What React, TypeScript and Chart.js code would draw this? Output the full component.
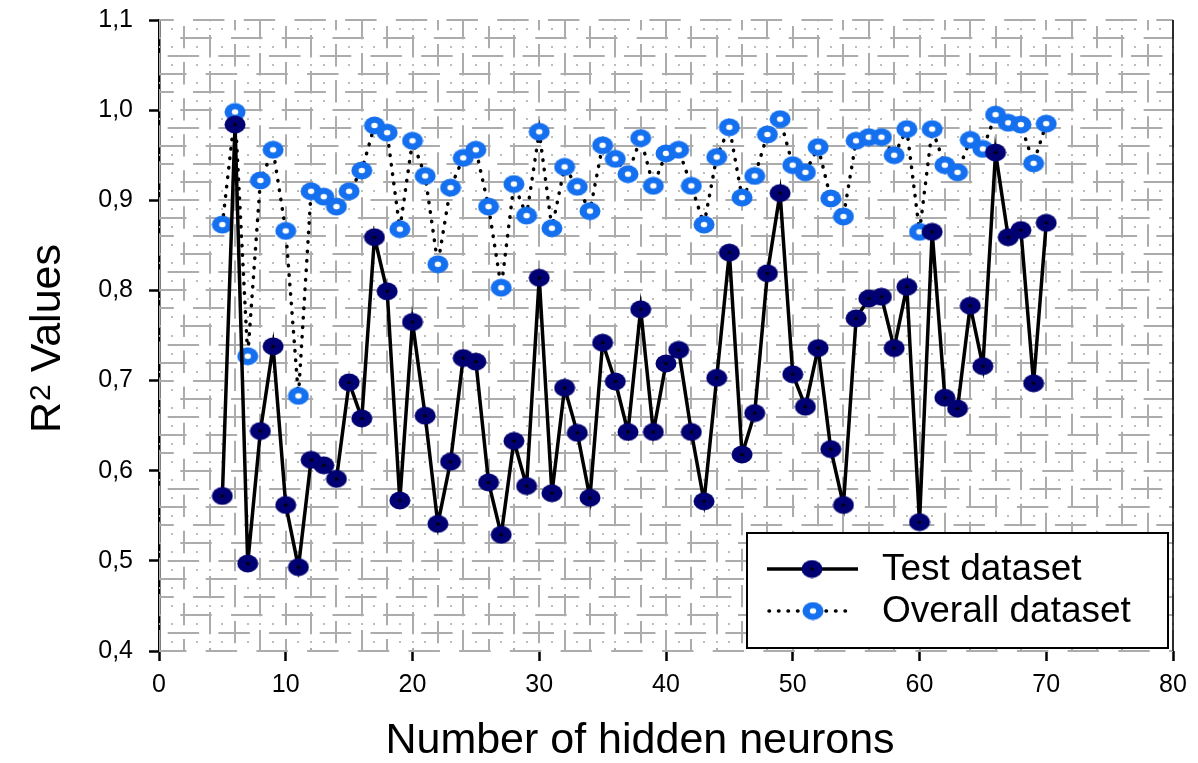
import { useEffect, useRef } from 'react';
import { Chart, registerables } from 'chart.js';

Chart.register(...registerables);

const hiddenNeurons = [
  5, 6, 7, 8, 9, 10, 11, 12, 13, 14, 15, 16, 17, 18, 19, 20, 21, 22, 23, 24, 25, 26,
  27, 28, 29, 30, 31, 32, 33, 34, 35, 36, 37, 38, 39, 40, 41, 42, 43, 44, 45, 46, 47,
  48, 49, 50, 51, 52, 53, 54, 55, 56, 57, 58, 59, 60, 61, 62, 63, 64, 65, 66, 67, 68,
  69, 70,
];

const testR2 = [
  0.572, 0.984, 0.497, 0.644, 0.738, 0.562, 0.493, 0.612, 0.606, 0.591, 0.698, 0.658,
  0.859, 0.799, 0.567, 0.765, 0.661, 0.541, 0.61, 0.725, 0.721, 0.587, 0.529, 0.633,
  0.583, 0.814, 0.575, 0.692, 0.642, 0.57, 0.742, 0.699, 0.643, 0.779, 0.643, 0.719,
  0.734, 0.643, 0.566, 0.703, 0.842, 0.618, 0.664, 0.819, 0.908, 0.707, 0.671, 0.736,
  0.624, 0.562, 0.769, 0.791, 0.793, 0.736, 0.804, 0.543, 0.865, 0.681, 0.669, 0.783,
  0.716, 0.953, 0.859, 0.867, 0.697, 0.875,
];

const overallR2 = [
  0.873, 0.998, 0.727, 0.922, 0.956, 0.866, 0.683, 0.91, 0.904, 0.893, 0.91, 0.933,
  0.983, 0.975, 0.868, 0.966, 0.927, 0.829, 0.914, 0.947, 0.956, 0.893, 0.803, 0.918,
  0.883, 0.976, 0.869, 0.937, 0.915, 0.888, 0.961, 0.946, 0.929, 0.969, 0.916, 0.952,
  0.956, 0.916, 0.873, 0.948, 0.981, 0.903, 0.927, 0.973, 0.99, 0.939, 0.931, 0.959,
  0.902, 0.882, 0.966, 0.97, 0.97, 0.95, 0.979, 0.865, 0.979, 0.939, 0.931, 0.967,
  0.957, 0.995, 0.986, 0.984, 0.941, 0.985,
];

const seriesNames = ['Test dataset', 'Overall dataset'];
const xTitle = 'Number of hidden neurons';
const yTitleMain = 'R';
const yTitleSup = '2';
const yTitleRest = ' Values';

const FONT = "'Liberation Sans', Arial, Helvetica, sans-serif";
const NAVY = '#000072';
const BLUE = '#1570ef';

function makeMarker(fill: string, center: string, cr: number): HTMLCanvasElement {
  const c = document.createElement('canvas');
  c.width = 22;
  c.height = 19;
  const g = c.getContext('2d')!;
  g.fillStyle = fill;
  g.beginPath();
  g.ellipse(11, 9.5, 10.5, 9, 0, 0, Math.PI * 2);
  g.fill();
  g.fillStyle = center;
  g.beginPath();
  g.ellipse(11, 9.5, cr * 1.15, cr, 0, 0, Math.PI * 2);
  g.fill();
  return c;
}

export default function App() {
  const ref = useRef<HTMLCanvasElement | null>(null);

  useEffect(() => {
    if (!ref.current) return;
    const navyMarker = makeMarker(NAVY, '#000000', 1.6);
    const blueMarker = makeMarker(BLUE, '#ffffff', 2.8);

    const gridPlugin = {
      id: 'fancyGrid',
      beforeDatasetsDraw(chart: any) {
        const { ctx, chartArea: a, scales } = chart;
        const x = scales.x;
        const y = scales.y;
        const ux = x.getPixelForValue(1) - x.getPixelForValue(0);
        const uy = y.getPixelForValue(0.4) - y.getPixelForValue(0.41);
        ctx.save();
        ctx.beginPath();
        ctx.rect(a.left, a.top - 1, a.right - a.left + 1, a.bottom - a.top + 2);
        ctx.clip();
        // minor dotted rows (small dots at half-cell rows)
        ctx.fillStyle = '#bdbdbd';
        for (let k = 0; k < 35; k++) {
          const py = y.getPixelForValue(0.41 + 0.02 * k);
          for (let v = 0; v <= 80; v += 1) {
            const px = x.getPixelForValue(v);
            ctx.fillRect(Math.round(px) - 1, Math.round(py) - 1, 2, 2);
          }
        }
        // major broken lines
        ctx.strokeStyle = '#acacac';
        ctx.lineWidth = 2;
        const hPeriod = ux * 4;
        ctx.setLineDash([hPeriod * 0.62, hPeriod * 0.38]);
        for (let k = 0; k <= 35; k++) {
          const py = Math.round(y.getPixelForValue(0.4 + 0.02 * k));
          ctx.lineDashOffset = ((k * 3) % 4) * ux * 1.0 + 4;
          ctx.beginPath();
          ctx.moveTo(a.left, py);
          ctx.lineTo(a.right, py);
          ctx.stroke();
        }
        const vPeriod = uy * 4;
        ctx.setLineDash([vPeriod * 0.62, vPeriod * 0.38]);
        for (let v = 0; v <= 80; v += 2) {
          const px = Math.round(x.getPixelForValue(v));
          ctx.lineDashOffset = (((v / 2) * 3) % 4) * uy + 3;
          ctx.beginPath();
          ctx.moveTo(px, a.top);
          ctx.lineTo(px, a.bottom);
          ctx.stroke();
        }
        ctx.restore();
        // right frame line
        ctx.save();
        ctx.strokeStyle = '#000';
        ctx.lineWidth = 1.5;
        ctx.beginPath();
        ctx.moveTo(a.right, a.top);
        ctx.lineTo(a.right, a.bottom);
        ctx.stroke();
        ctx.restore();
      },
    };

    const overlayPlugin = {
      id: 'overlay',
      afterDraw(chart: any) {
        const { ctx, chartArea: a } = chart;
        ctx.save();
        ctx.fillStyle = '#000';
        // x title
        ctx.font = `43px ${FONT}`;
        ctx.textAlign = 'center';
        ctx.textBaseline = 'alphabetic';
        ctx.fillText(xTitle, 640, a.bottom + 102);
        // y title (rotated)
        ctx.save();
        ctx.translate(60, 433);
        ctx.rotate(-Math.PI / 2);
        ctx.textAlign = 'left';
        ctx.font = `43px ${FONT}`;
        ctx.fillText(yTitleMain, 0, 0);
        const wR = ctx.measureText(yTitleMain).width;
        ctx.font = `30px ${FONT}`;
        ctx.fillText(yTitleSup, wR + 1, -10);
        const w2 = ctx.measureText(yTitleSup).width;
        ctx.font = `43px ${FONT}`;
        ctx.fillText(yTitleRest, wR + w2 + 1, 0);
        ctx.restore();

        // legend
        const right = a.right - 5;
        const bottom = a.bottom - 3;
        const left = right - 421;
        const top = bottom - 115;
        ctx.fillStyle = '#fff';
        ctx.fillRect(left, top, right - left, bottom - top);
        ctx.strokeStyle = '#000';
        ctx.lineWidth = 2;
        ctx.setLineDash([]);
        ctx.strokeRect(left, top, right - left, bottom - top);

        const y1 = bottom - 79;
        const y2 = bottom - 37;
        ctx.lineWidth = 3.5;
        ctx.beginPath();
        ctx.moveTo(left + 20, y1);
        ctx.lineTo(left + 111, y1);
        ctx.stroke();
        ctx.drawImage(navyMarker, left + 65 - 11, y1 - 9.5);

        ctx.lineCap = 'round';
        ctx.setLineDash([0.5, 9]);
        ctx.beginPath();
        ctx.moveTo(left + 22, y2);
        ctx.lineTo(left + 100, y2);
        ctx.stroke();
        ctx.setLineDash([]);
        ctx.drawImage(blueMarker, left + 66 - 11, y2 - 9.5);

        ctx.fillStyle = '#000';
        ctx.font = `37px ${FONT}`;
        ctx.textAlign = 'left';
        ctx.fillText(seriesNames[0], left + 135, bottom - 68);
        ctx.fillText(seriesNames[1], left + 135, bottom - 26);
        ctx.restore();
      },
    };

    const chart = new Chart(ref.current, {
      type: 'line',
      data: {
        datasets: [
          {
            label: seriesNames[0],
            data: hiddenNeurons.map((n, i) => ({ x: n, y: testR2[i] })),
            borderColor: '#000',
            borderWidth: 3.5,
            pointStyle: navyMarker as any,
            pointRadius: 10,
            tension: 0,
            fill: false,
          },
          {
            label: seriesNames[1],
            data: hiddenNeurons.map((n, i) => ({ x: n, y: overallR2[i] })),
            borderColor: '#000',
            borderWidth: 3.5,
            borderDash: [0.5, 9],
            borderCapStyle: 'round',
            pointStyle: blueMarker as any,
            pointRadius: 10,
            tension: 0,
            fill: false,
          },
        ],
      },
      options: {
        animation: false,
        responsive: true,
        maintainAspectRatio: false,
        events: [],
        layout: { padding: { top: 20, right: 25, left: 0, bottom: 0 } },
        plugins: {
          legend: { display: false },
          tooltip: { enabled: false },
        },
        scales: {
          x: {
            type: 'linear',
            min: 0,
            max: 80,
            afterFit: (s: any) => {
              s.height = 112;
              s.paddingLeft = 0;
              s.paddingRight = 0;
            },
            border: { display: false },
            grid: {
              drawOnChartArea: false,
              drawTicks: true,
              tickLength: 10,
              tickWidth: 2.5,
              tickColor: '#000',
            },
            ticks: {
              stepSize: 10,
              padding: 9,
              color: '#000',
              font: { size: 25, family: FONT },
              maxRotation: 0,
              callback: (v: any) => String(v),
            },
          },
          y: {
            type: 'linear',
            min: 0.4,
            max: 1.1,
            afterFit: (s: any) => {
              s.width = 159;
              s.paddingTop = 0;
              s.paddingBottom = 0;
            },
            border: { display: true, color: '#000', width: 2.5 },
            grid: {
              drawOnChartArea: false,
              drawTicks: true,
              tickLength: 10,
              tickWidth: 2.5,
              tickColor: '#000',
            },
            ticks: {
              stepSize: 0.1,
              padding: 16,
              color: '#000',
              font: { size: 25, family: FONT },
              callback: (v: any) => Number(v).toFixed(1).replace('.', ','),
            },
          },
        },
      },
      plugins: [gridPlugin, overlayPlugin],
    });

    return () => chart.destroy();
  }, []);

  return (
    <div style={{ position: 'fixed', left: 0, top: 0, width: 1198, height: 763 }}>
      <canvas ref={ref} />
    </div>
  );
}
